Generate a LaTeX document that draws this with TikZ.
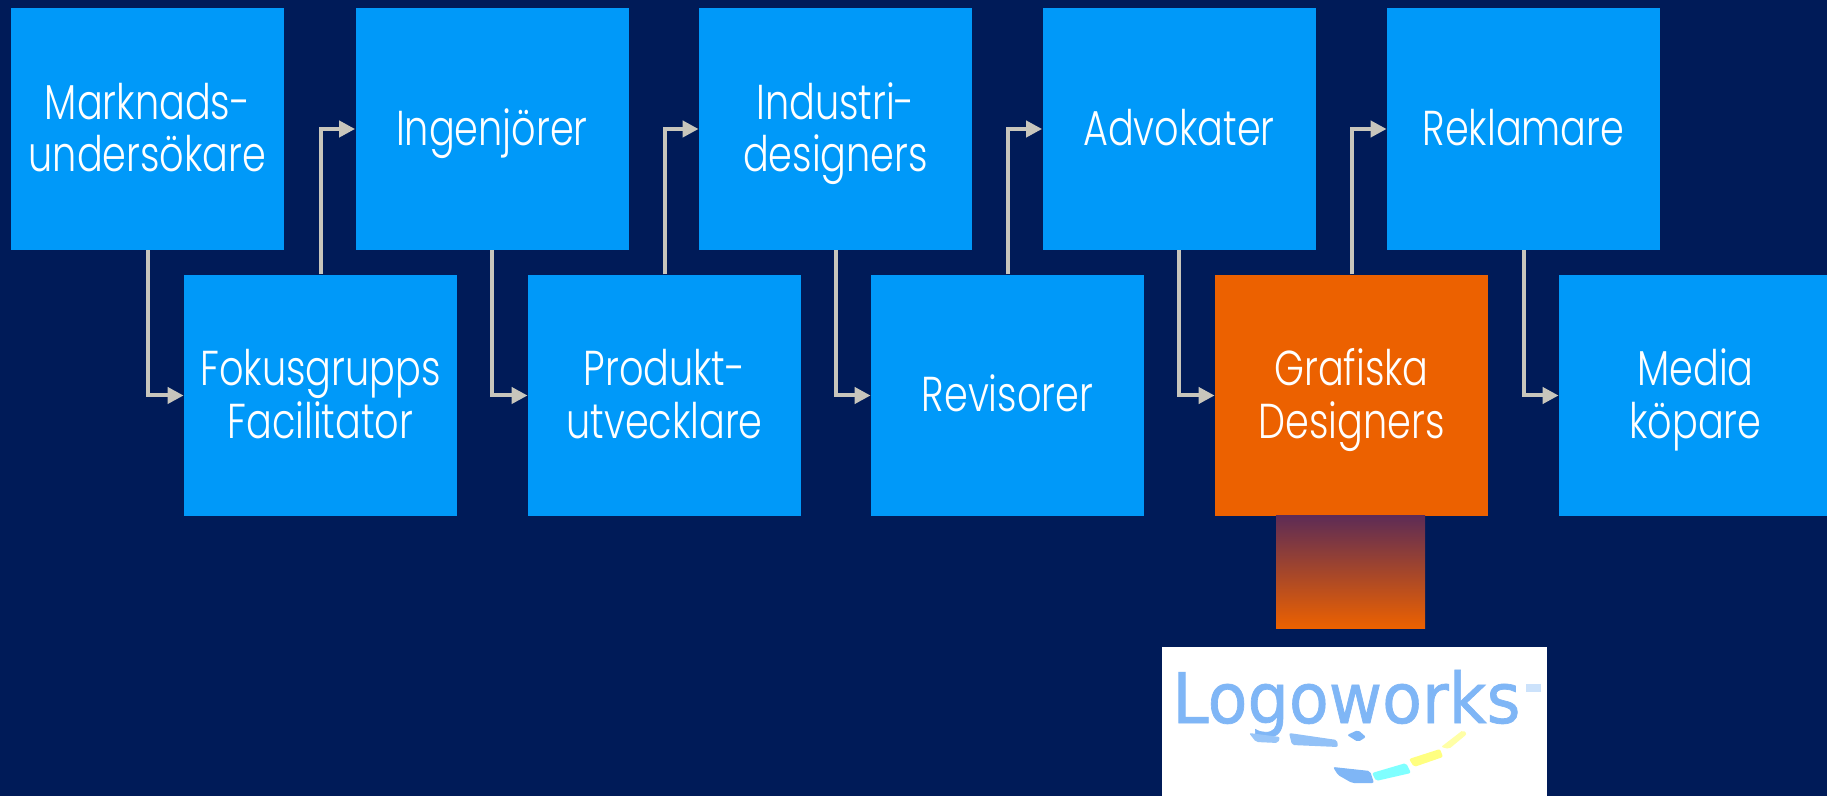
\documentclass[tikz,border=0pt]{standalone}
\usepackage{fontspec}
\setmainfont{Poppins}[UprightFont=* Light,FakeStretch=0.78]
\newfontfamily\logofont{DejaVu Sans}[FakeBold=1]
\usetikzlibrary{arrows.meta}
\definecolor{navybg}{HTML}{001B58}
\definecolor{boxblue}{HTML}{0099F9}
\definecolor{boxorange}{HTML}{EC6100}
\definecolor{linkgrey}{HTML}{C8C6BC}
\definecolor{logoblue}{HTML}{7FB6F6}
\definecolor{fadetop}{HTML}{5E2C55}
\definecolor{logocyan}{HTML}{7FFFFF}
\definecolor{logoyellow}{HTML}{FFFF80}
\newcommand\st{\rule[-4.5pt]{0pt}{25.5pt}}
\newcommand\one[1]{\st\smash{#1}}
\newcommand\two[2]{\one{#1}\\\one{#2}}
\tikzset{
  x=0.5pt,y=-0.5pt,
  stagebox/.style={fill=boxblue,text=white,minimum width=136.5pt,minimum height=120.75pt,inner sep=0pt,
    align=center,font=\fontsize{24.5}{26.25}\selectfont},
  hot/.style={stagebox,fill=boxorange},
  link/.style={draw=linkgrey,line width=2pt,-{Triangle[length=8pt,width=8pt]}},
}
\begin{document}
\begin{tikzpicture}
\useasboundingbox (0,0) rectangle (1827,796);
\clip (0,0) rectangle (1827,796);
\fill[navybg] (0,0) rectangle (1827,796);
\node[stagebox] (a) at (147.5,129) {\two{Marknads-}{undersökare}};
\node[stagebox] (b) at (320.5,395.5) {\two{Fokusgrupps}{Facilitator}};
\node[stagebox] (c) at (492,129) {\one{Ingenjörer}};
\node[stagebox] (d) at (664.5,395.5) {\two{Produkt-}{utvecklare}};
\node[stagebox] (e) at (835.5,129) {\two{Industri-}{designers}};
\node[stagebox] (f) at (1007.5,395.5) {\one{Revisorer}};
\node[stagebox] (g) at (1179,129) {\one{Advokater}};
\node[hot] (h) at (1351.5,395.5) {\two{Grafiska}{Designers}};
\node[stagebox] (i) at (1523.5,129) {\one{Reklamare}};
\node[stagebox] (j) at (1695.5,395.5) {\two{Media}{köpare}};
\draw[link] (a.south) |- (b.west);
\draw[link] (b.north) |- (c.west);
\draw[link] (c.south) |- (d.west);
\draw[link] (d.north) |- (e.west);
\draw[link] (e.south) |- (f.west);
\draw[link] (f.north) |- (g.west);
\draw[link] (g.south) |- (h.west);
\draw[link] (h.north) |- (i.west);
\draw[link] (i.south) |- (j.west);
\fill[top color=fadetop,bottom color=boxorange] (1276,516) rectangle (1425,628);
\fill[white] (1162,647) rectangle (1547,796);
\node[text=logoblue,inner sep=0pt,anchor=base west] (logo) at (1172,723)
  {\resizebox{174pt}{26.5pt}{\logofont Logoworks}};
% tagline and swoosh of the logo
\fill[logoblue!80!white,rounded corners=1pt] (1249,733) -- (1280,737) -- (1278,743) -- (1256,742) -- cycle;
\fill[logoblue!85!white,rounded corners=1pt] (1289,733) -- (1337,740) -- (1338,747) -- (1292,745) -- cycle;
\fill[logoblue,rounded corners=1pt] (1347,735) -- (1358,730) -- (1366,737) -- (1358,742) -- cycle;
\fill[logoblue,rounded corners=1pt] (1333,767) -- (1370,771) -- (1374,783) -- (1352,783) -- (1338,775) -- cycle;
\fill[logocyan,rounded corners=1pt] (1372,773) -- (1406,763) -- (1411,773) -- (1376,781) -- cycle;
\fill[logoyellow,rounded corners=1pt] (1409,759) -- (1440,749) -- (1443,757) -- (1414,767) -- cycle;
\fill[logoyellow!70!white,rounded corners=1pt] (1441,747) -- (1463,730) -- (1467,734) -- (1449,749) -- cycle;
\fill[logoblue!40!white] (1526,684) rectangle (1541,692);
\end{tikzpicture}
\end{document}
